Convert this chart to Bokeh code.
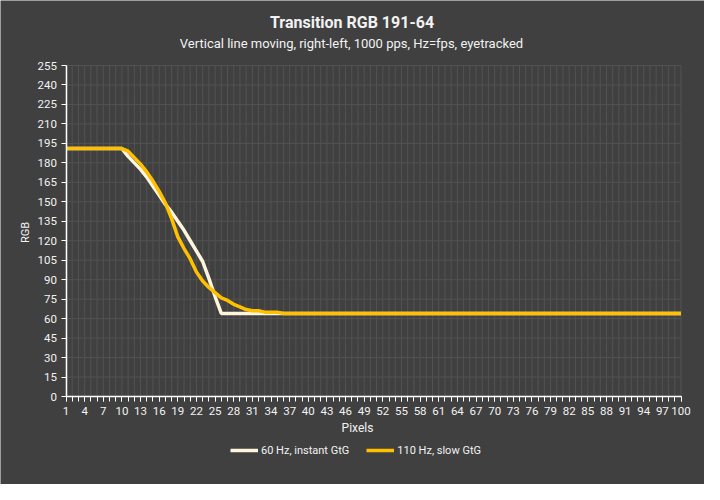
import math
from bokeh.plotting import figure
from bokeh.models import Range1d, FixedTicker, Legend, LegendItem, Label
from bokeh.embed import file_html
from bokeh.resources import INLINE

pixels = list(range(1, 101))
hz60_instant = [
    191, 191, 191, 191, 191, 191, 191, 191, 191, 191,
    185, 180, 175, 169, 162, 155, 148, 142, 135, 128,
    120, 112, 104, 91, 77, 64, 64, 64, 64, 64,
    64, 64, 64, 64, 64, 64, 64, 64, 64, 64,
    64, 64, 64, 64, 64, 64, 64, 64, 64, 64,
    64, 64, 64, 64, 64, 64, 64, 64, 64, 64,
    64, 64, 64, 64, 64, 64, 64, 64, 64, 64,
    64, 64, 64, 64, 64, 64, 64, 64, 64, 64,
    64, 64, 64, 64, 64, 64, 64, 64, 64, 64,
    64, 64, 64, 64, 64, 64, 64, 64, 64, 64,
]
hz110_slow = [
    191, 191, 191, 191, 191, 191, 191, 191, 191, 191,
    189, 184, 179, 173, 166, 158, 149, 137, 123, 114,
    106, 96, 89, 84, 80, 76, 74, 71, 69, 67,
    66, 66, 65, 65, 65, 64, 64, 64, 64, 64,
    64, 64, 64, 64, 64, 64, 64, 64, 64, 64,
    64, 64, 64, 64, 64, 64, 64, 64, 64, 64,
    64, 64, 64, 64, 64, 64, 64, 64, 64, 64,
    64, 64, 64, 64, 64, 64, 64, 64, 64, 64,
    64, 64, 64, 64, 64, 64, 64, 64, 64, 64,
    64, 64, 64, 64, 64, 64, 64, 64, 64, 64,
]
x_tick_labels = [1, 4, 7, 10, 13, 16, 19, 22, 25, 28, 31, 34, 37, 40, 43, 46, 49,
                 52, 55, 58, 61, 64, 67, 70, 73, 76, 79, 82, 85, 88, 91, 94, 97, 100]
y_ticks = [0, 15, 30, 45, 60, 75, 90, 105, 120, 135, 150, 165, 180, 195, 210, 225, 240, 255]
series_names = ["60 Hz, instant GtG", "110 Hz, slow GtG"]
title_text = "Transition RGB 191-64"
subtitle_text = "Vertical line moving, right-left, 1000 pps, Hz=fps, eyetracked"
x_label = "Pixels"
y_label = "RGB"

BG = "#404040"
TXT = "#f2f2f2"
GRID = "#525252"
WHITE_LINE = "#fff5dc"
YELLOW_LINE = "#ffc000"
FONT = "Roboto"

# layout: the frame fills the whole canvas; the plot area is placed by pixel targets
W, H = 704, 484
PL, PR, PT, PB = 65.5, 680.5, 65.0, 396.0          # plot-area edges in canvas px
x0, x1 = pixels[0], pixels[-1]
y0, y1 = y_ticks[0], y_ticks[-1]
xs = (PR - PL) / (x1 - x0)
ys = (PB - PT) / (y1 - y0)
xr = Range1d(x0 - PL / xs, x1 + (W - PR) / xs)
yr = Range1d(y0 - (H - PB) / ys, y1 + PT / ys)

p = figure(width=W, height=H, output_backend="svg", toolbar_location=None,
           x_range=xr, y_range=yr,
           min_border_left=0, min_border_right=0, min_border_top=0, min_border_bottom=0,
           background_fill_color=BG, border_fill_color=BG, outline_line_color=None)
p.grid.visible = False

# gridlines limited to the plot area
p.segment(x0=pixels, y0=y0, x1=pixels, y1=y1, line_color=GRID, line_width=1)
p.segment(x0=x0, y0=y_ticks, x1=x1, y1=y_ticks, line_color=GRID, line_width=1)

# axes, fixed at the plot-area edges
p.xaxis.fixed_location = y0
p.xaxis.bounds = (x0, x1)
p.yaxis.fixed_location = x0
p.yaxis.bounds = (y0, y1)
p.xaxis.ticker = FixedTicker(ticks=x_tick_labels, minor_ticks=pixels)
p.yaxis.ticker = FixedTicker(ticks=y_ticks)
for ax in (p.xaxis[0], p.yaxis[0]):
    ax.axis_line_color = "#ffffff"
    ax.axis_line_width = 1.5
    ax.major_tick_line_color = "#ffffff"
    ax.minor_tick_line_color = "#ffffff"
    ax.major_tick_out = 5
    ax.major_tick_in = 0
    ax.major_label_text_color = TXT
    ax.major_label_text_font = FONT
    ax.major_label_text_font_size = "11.5px"
p.xaxis.minor_tick_out = 5
p.xaxis.minor_tick_in = 0
p.yaxis.minor_tick_line_color = None
p.xaxis.major_label_standoff = 5
p.yaxis.major_label_standoff = 4

r60 = p.line(pixels, hz60_instant, line_color=WHITE_LINE, line_width=3.5)
r110 = p.line(pixels, hz110_slow, line_color=YELLOW_LINE, line_width=3.5)

def add_text(text, cx, cy, size, bold=False, angle=0.0):
    p.add_layout(Label(x=cx, y=H - cy, x_units="screen", y_units="screen", text=text,
                       text_align="center", text_baseline="middle", angle=angle,
                       text_font=FONT, text_font_size=size, text_color=TXT,
                       text_font_style="bold" if bold else "normal"))

add_text(title_text, 351.5, 21.5, "16px", bold=True)
add_text(subtitle_text, 351.0, 43.0, "13px")
add_text(x_label, 357.0, 427.0, "12px")
add_text(y_label, 24.5, 232.0, "11px", angle=math.pi / 2)

legend = Legend(items=[LegendItem(label=series_names[0], renderers=[r60]),
                       LegendItem(label=series_names[1], renderers=[r110])],
                orientation="horizontal", location=(230, H - 450 - 8),
                background_fill_alpha=0, border_line_color=None,
                padding=0, margin=0, spacing=17, glyph_width=28, glyph_height=16,
                label_height=16, label_standoff=3,
                label_text_color=TXT, label_text_font=FONT, label_text_font_size="11px")
p.add_layout(legend, "center")

open("out.html", "w").write(file_html(p, INLINE))
